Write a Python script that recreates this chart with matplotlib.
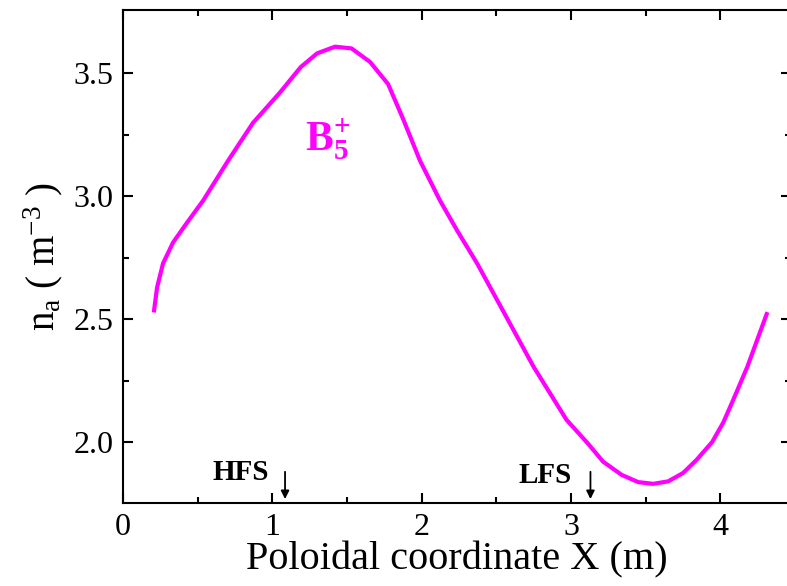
import numpy as np
import matplotlib.pyplot as plt

plt.rcParams['font.family'] = ['Liberation Serif', 'DejaVu Serif']
plt.rcParams['mathtext.fontset'] = 'custom'
plt.rcParams['mathtext.rm'] = 'Liberation Serif'
plt.rcParams['mathtext.it'] = 'Liberation Serif:italic'
plt.rcParams['mathtext.bf'] = 'Liberation Serif:bold'

# density of B5+ along poloidal coordinate
x_pol = [0.208, 0.228, 0.268, 0.335, 0.429, 0.536, 0.703, 0.87, 1.05, 1.19, 1.30,
         1.42, 1.53, 1.654, 1.775, 1.875, 1.989, 2.123, 2.237, 2.371, 2.525,
         2.75, 2.97, 3.11, 3.215, 3.34, 3.45, 3.55, 3.65, 3.75, 3.84, 3.945,
         4.02, 4.085, 4.18, 4.31]
n_b5 = [2.535, 2.628, 2.726, 2.811, 2.892, 2.981, 3.143, 3.297, 3.42, 3.524, 3.58,
        3.607, 3.60, 3.545, 3.455, 3.314, 3.143, 2.981, 2.86, 2.726, 2.555,
        2.305, 2.09, 1.996, 1.92, 1.866, 1.837, 1.83, 1.84, 1.874, 1.927, 2.0,
        2.08, 2.17, 2.305, 2.52]

# marker arrows for high / low field side
hfs_x = 1.085
lfs_x = 3.13

fig = plt.figure(figsize=(7.87, 5.86), dpi=100)
ax = fig.add_axes([0.1563, 0.1416, 0.849, 0.8413])

ax.plot(x_pol, n_b5, color='#ff00ff', lw=3)

ax.set_xlim(0, 4.474)
ax.set_ylim(1.752, 3.756)
ax.set_xticks([0, 1, 2, 3, 4])
ax.set_xticks(np.arange(0.5, 4.5, 1.0), minor=True)
ax.set_yticks([2.0, 2.5, 3.0, 3.5])
ax.set_yticklabels(['2.0', '2.5', '3.0', '3.5'])
ax.set_yticks([2.25, 2.75, 3.25], minor=True)
ax.tick_params(which='both', direction='in', top=True, right=True, labelsize=23, width=1.5)
ax.tick_params(which='major', length=7, pad=7)
ax.tick_params(which='minor', length=4)
for s in ax.spines.values():
    s.set_linewidth(1.5)

ax.set_xlabel('Poloidal coordinate X (m)', fontsize=29, labelpad=0)
ax.set_ylabel(r'n$_\mathrm{a}$ ( m$^{\mathrm{-3}}$ )', fontsize=28, labelpad=6)

ax.text(1.219, 3.18, r'$\mathbf{B}_\mathbf{5}^\mathbf{+}$', color='#ff00ff', fontsize=30,
        ha='left', va='baseline')

ax.text(0.596, 1.846, 'HFS', fontsize=21, fontweight='bold', ha='left', va='baseline')
ax.text(2.645, 1.834, 'LFS', fontsize=21, fontweight='bold', ha='left', va='baseline')
for xa in [hfs_x, lfs_x]:
    ax.annotate('', xy=(xa, 1.768), xytext=(xa, 1.879),
                arrowprops=dict(arrowstyle='-|>', color='k', lw=1.3, mutation_scale=12,
                                shrinkA=0, shrinkB=0))

fig.savefig('out.png', dpi=100)
